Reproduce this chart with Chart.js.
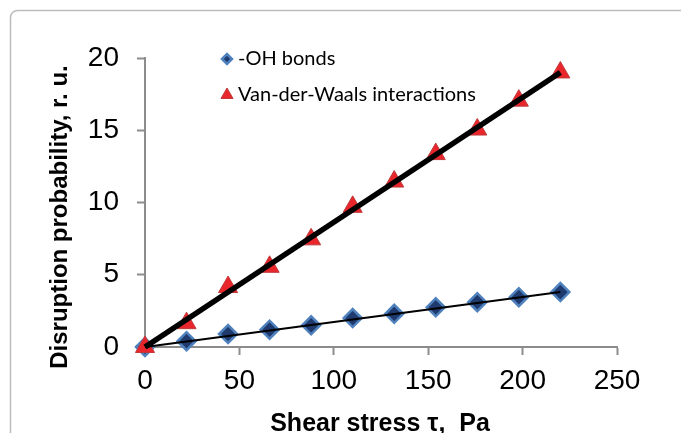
<!DOCTYPE html>
<html>
<head>
<meta charset="utf-8">
<script src="https://cdn.jsdelivr.net/npm/chart.js@4/dist/chart.umd.min.js"></script>
<style>
  html, body { margin: 0; padding: 0; background: #fff; }
  #chart { display: block; }
</style>
</head>
<body>
<canvas id="chart" width="681" height="433"></canvas>
<script>
// Data
const shearStress = [0, 22, 44, 66, 88, 110, 132, 154, 176, 198, 220];
const ohBonds = [0, 0.4, 0.9, 1.2, 1.5, 2.0, 2.3, 2.75, 3.1, 3.45, 3.8];
const vdwInteractions = [0, 1.65, 4.15, 5.55, 7.45, 9.7, 11.45, 13.35, 15.05, 17.05, 19.0];

// Linear trend lines (end points)
const trendX = [0, 220];
const ohTrend = [0, 3.8];
const vdwTrend = [0, 19.0];

const seriesNames = ["-OH bonds", "Van-der-Waals interactions"];
const xTitle = "Shear stress \u03c4,  Pa";
const yTitle = "Disruption probability, r. u.";

const toPoints = (xs, ys) => xs.map((x, i) => ({ x: x, y: ys[i] }));

const AXIS_GREY = '#8c8c8c';

// Frame, axis titles and legend drawn on the canvas
const decorPlugin = {
    id: 'decor',
    beforeDraw(chart) {
        const ctx = chart.ctx;
        ctx.save();
        ctx.strokeStyle = '#bcbcbc';
        ctx.lineWidth = 1.5;
        ctx.beginPath();
        ctx.roundRect(10.5, 10.5, 700, 460, 7);
        ctx.stroke();
        ctx.restore();
    },
    afterDraw(chart) {
        const ctx = chart.ctx;
        ctx.save();
        ctx.fillStyle = '#000';

        // x title
        ctx.font = 'bold 25px "Liberation Sans", Arial, sans-serif';
        ctx.textAlign = 'center';
        ctx.textBaseline = 'alphabetic';
        ctx.fillText(xTitle, 380, 431);

        // y title
        ctx.save();
        ctx.translate(67, 217);
        ctx.rotate(-Math.PI / 2);
        ctx.font = 'bold 24px "Liberation Sans", Arial, sans-serif';
        ctx.fillText(yTitle, 0, 0);
        ctx.restore();

        // legend
        const items = [
            { ds: chart.data.datasets[2], y: 59, r: 5 },
            { ds: chart.data.datasets[3], y: 95, r: 7 }
        ];
        ctx.font = '20px Lato, "Open Sans", sans-serif';
        ctx.textAlign = 'left';
        ctx.textBaseline = 'middle';
        items.forEach(it => {
            ctx.fillStyle = it.ds.backgroundColor;
            ctx.strokeStyle = it.ds.borderColor;
            ctx.lineWidth = it.ds.borderWidth;
            Chart.helpers.drawPoint(ctx, { pointStyle: it.ds.pointStyle, radius: it.r, borderWidth: it.ds.borderWidth, rotation: 0 }, 227, it.y);
            ctx.fillStyle = '#000';
            ctx.fillText(it.ds.label, 238, it.y);
        });
        ctx.restore();
    }
};

new Chart(document.getElementById('chart'), {
    type: 'scatter',
    data: {
        datasets: [
            {
                label: 'vdw trend',
                data: toPoints(trendX, vdwTrend),
                showLine: true,
                borderColor: '#000',
                borderWidth: 5.5,
                pointRadius: 0,
                order: 0,
                clip: false
            },
            {
                label: 'oh trend',
                data: toPoints(trendX, ohTrend),
                showLine: true,
                borderColor: '#000',
                borderWidth: 2,
                pointRadius: 0,
                order: 0,
                clip: false
            },
            {
                label: seriesNames[0],
                data: toPoints(shearStress, ohBonds),
                pointStyle: 'rectRot',
                pointRadius: 9,
                backgroundColor: '#1f3a6e',
                borderColor: '#4f81bd',
                borderWidth: 2.5,
                order: 2,
                clip: false
            },
            {
                label: seriesNames[1],
                data: toPoints(shearStress, vdwInteractions),
                pointStyle: 'triangle',
                pointRadius: 11,
                backgroundColor: '#e8262b',
                borderColor: '#c0393b',
                borderWidth: 1,
                order: 1,
                clip: false
            }
        ]
    },
    options: {
        responsive: false,
        animation: false,
        layout: { padding: { left: 0, top: 58, right: 64, bottom: 0 } },
        plugins: {
            legend: { display: false },
            tooltip: { enabled: false }
        },
        scales: {
            x: {
                type: 'linear',
                min: 0,
                max: 250,
                ticks: {
                    stepSize: 50,
                    padding: 9,
                    color: '#000',
                    maxRotation: 0,
                    font: { family: '"Liberation Sans", Arial, sans-serif', size: 28 }
                },
                grid: {
                    drawOnChartArea: false,
                    tickLength: 8,
                    tickColor: AXIS_GREY,
                    tickWidth: 2
                },
                border: { color: AXIS_GREY, width: 2 },
                afterFit(scale) { scale.height = 86; }
            },
            y: {
                type: 'linear',
                min: 0,
                max: 20,
                ticks: {
                    stepSize: 5,
                    padding: 18,
                    color: '#000',
                    font: { family: '"Liberation Sans", Arial, sans-serif', size: 28 }
                },
                grid: {
                    drawOnChartArea: false,
                    tickLength: 8,
                    tickColor: AXIS_GREY,
                    tickWidth: 2
                },
                border: { color: AXIS_GREY, width: 2 },
                afterFit(scale) { scale.width = 145; }
            }
        }
    },
    plugins: [decorPlugin]
});
</script>
</body>
</html>
